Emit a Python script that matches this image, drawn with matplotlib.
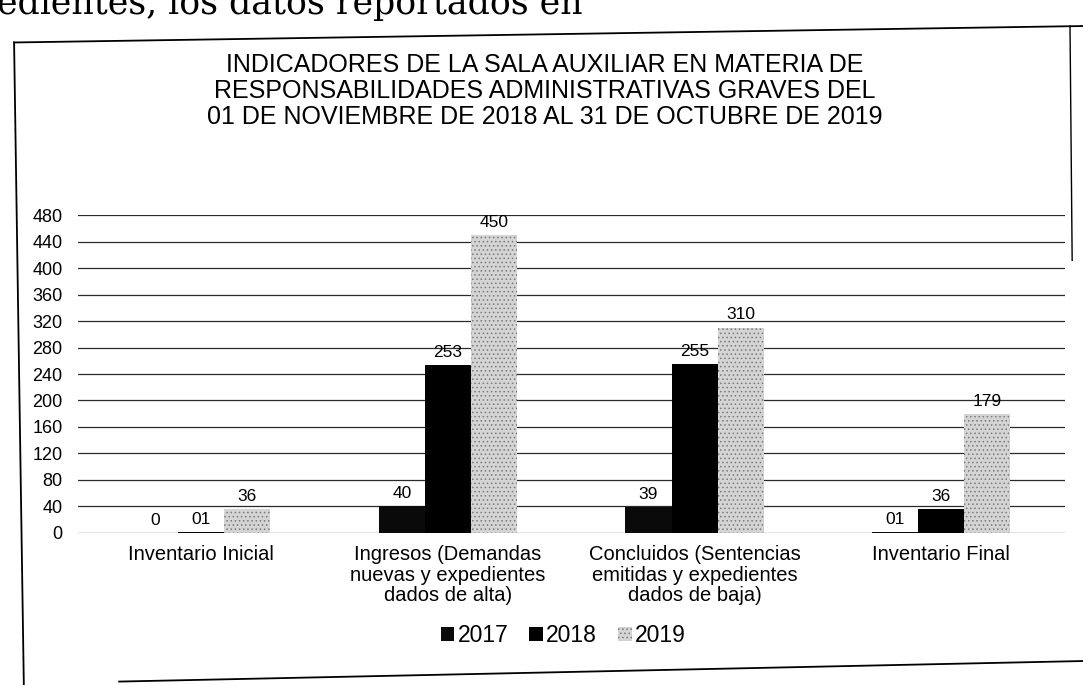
import numpy as np
import matplotlib
matplotlib.use("Agg")
import matplotlib.pyplot as plt
from matplotlib.lines import Line2D

# data
categorias = [
    "Inventario Inicial",
    "Ingresos (Demandas\nnuevas y expedientes\ndados de alta)",
    "Concluidos (Sentencias\nemitidas y expedientes\ndados de baja)",
    "Inventario Final",
]
anios = ["2017", "2018", "2019"]
v2017 = [0, 40, 39, 1]
v2018 = [1, 253, 255, 36]
v2019 = [36, 450, 310, 179]
etiquetas = [
    ["0", "40", "39", "01"],
    ["01", "253", "255", "36"],
    ["36", "450", "310", "179"],
]
yticks = list(range(0, 481, 40))

titulo = ("INDICADORES DE LA SALA AUXILIAR EN MATERIA DE\n"
          "RESPONSABILIDADES ADMINISTRATIVAS GRAVES DEL\n"
          "01 DE NOVIEMBRE DE 2018 AL 31 DE OCTUBRE DE 2019")

plt.rcParams["font.family"] = ["Liberation Sans", "DejaVu Sans"]
plt.rcParams["hatch.linewidth"] = 0.6

fig = plt.figure(figsize=(10.83, 6.85), dpi=100)
ax = fig.add_axes([0.072, 0.222, 0.911, 0.464])

x = np.arange(len(categorias))
w = 0.187
estilos = [
    dict(color="#0a0a0a"),
    dict(color="#000000"),
    dict(color="#d4d4d4", edgecolor="#7a7a7a", hatch="....", linewidth=0),
]
for i, (vals, st) in enumerate(zip([v2017, v2018, v2019], estilos)):
    pos = x + (i - 1) * w
    ax.bar(pos, vals, w, label=anios[i], zorder=2, **st)
    for px, v, t in zip(pos, vals, etiquetas[i]):
        ax.text(px, v + 8, t, ha="center", va="bottom", fontsize=12.5,
                zorder=3)

ax.set_xlim(-0.5, 3.5)
ax.set_ylim(0, 480)
ax.set_yticks(yticks)
ax.set_xticks(x)
ax.set_xticklabels(categorias, fontsize=14.5, linespacing=1.1)
ax.tick_params(axis="both", length=0)
ax.tick_params(axis="x", pad=9)
ax.tick_params(axis="y", labelsize=13, pad=11)
ax.grid(axis="y", color="#2a2a2a", linewidth=0.9, zorder=0)
ax.set_axisbelow(True)
for s in ax.spines.values():
    s.set_visible(False)

fig.text(0.503, 0.867, titulo, ha="center", va="center", fontsize=18,
         linespacing=1.1)

fig.legend(*ax.get_legend_handles_labels(), loc="center",
           bbox_to_anchor=(0.52, 0.072), ncol=3, frameon=False,
           fontsize=16.5, handlelength=0.6, handleheight=0.6,
           handletextpad=0.15, columnspacing=0.9)

# marco del recuadro escaneado y texto del documento
fig.add_artist(Line2D([0.013, 1.0], [0.938, 0.962], color="black", lw=1.3))
fig.add_artist(Line2D([0.013, 0.022], [0.938, 0.0], color="black", lw=1.3))
fig.add_artist(Line2D([0.988, 0.99], [0.962, 0.62], color="black", lw=1.0))
fig.add_artist(Line2D([0.11, 1.0], [0.005, 0.035], color="black", lw=1.3))
fig.text(-0.003, 0.979, "edientes, los datos reportados en", fontsize=25,
         family="DejaVu Serif", ha="left", va="baseline")

fig.savefig("out.png", dpi=100, facecolor="white")
